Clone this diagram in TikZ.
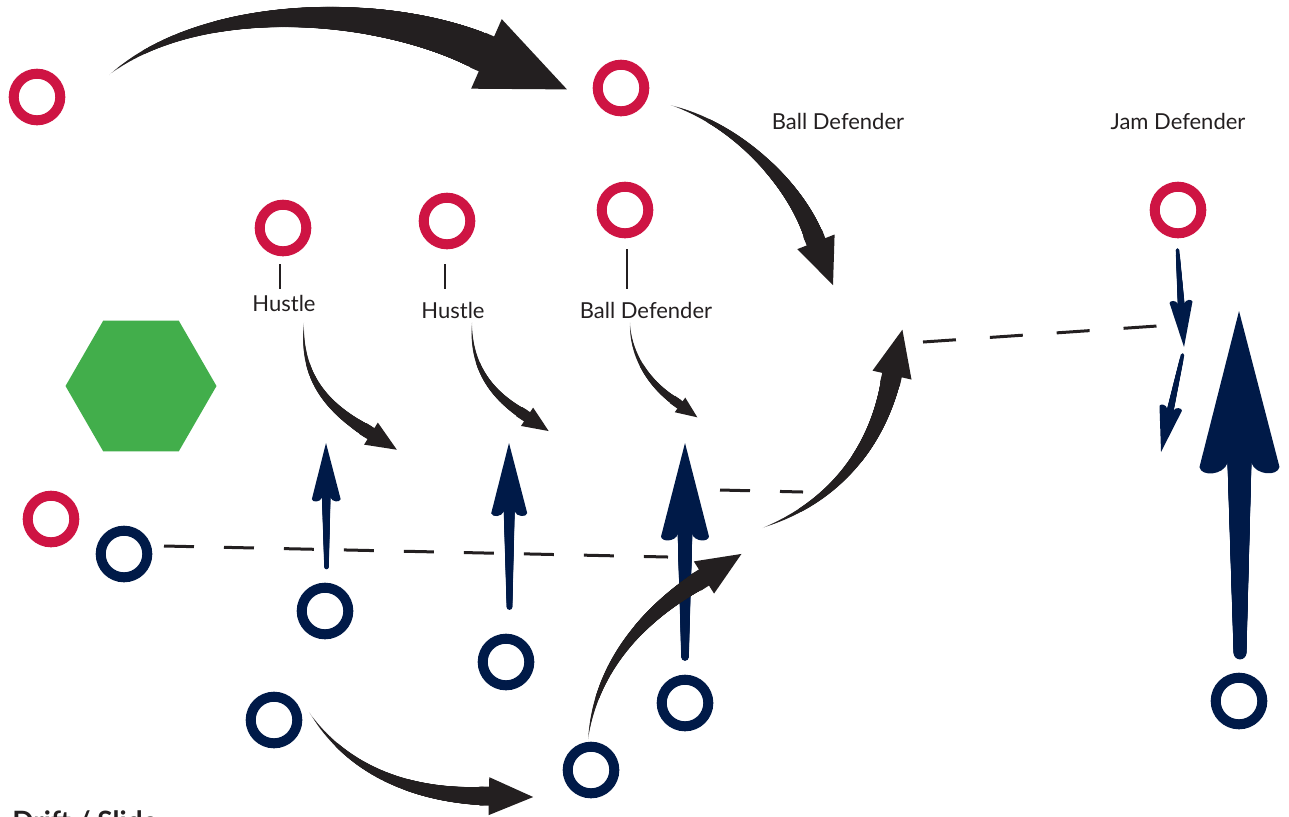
\documentclass[tikz,border=0pt]{standalone}
\usepackage{fontspec}
\setmainfont{Lato}
\usetikzlibrary{decorations.markings}

\definecolor{jamred}{RGB}{206,20,67}
\definecolor{navy}{RGB}{0,26,72}
\definecolor{ink}{RGB}{35,31,32}
\definecolor{turf}{RGB}{66,174,75}

\tikzset{
  redring/.style={circle, draw=jamred, line width=5pt, minimum size=23.3pt, inner sep=0pt},
  navyring/.style={circle, draw=navy, line width=5pt, minimum size=23.3pt, inner sep=0pt},
  tag/.style={text=ink, font=\fontsize{11}{13}\selectfont, inner sep=0pt, anchor=base},
  offside/.style={draw=ink, line width=1.5pt, dash pattern=on 15pt off 15pt},
  % black swing: body grows from a point to #1 pt, then a triangle head
  sweeparrow/.style={
    decoration={markings,
      mark=between positions 0 and 0.97 step 0.3pt with {
        \pgfmathsetmacro\sweepr{0.5*#1*\pgfkeysvalueof{/pgf/decoration/mark info/distance from start}/\pgfdecoratedpathlength}
        \fill[ink] (0pt,0pt) circle (\sweepr pt);},
      mark=at position -5pt with {
        \fill[ink] (4.7pt,{#1pt}) -- ({2.3*#1pt+5pt},0pt) -- (4.7pt,{-#1pt}) -- cycle;
        \fill[ink] (0pt,{-0.5*#1pt}) rectangle (5pt,{0.5*#1pt});}},
    postaction=decorate},
  % navy run: tapered stem, head half width #1 pt
  navyrun/.style={
    decoration={markings,
      mark=between positions 0 and 0.75 step 0.3pt with {
        \pgfmathsetmacro\stemr{#1*(0.16+0.25*\pgfkeysvalueof{/pgf/decoration/mark info/distance from start}/\pgfdecoratedpathlength)}
        \fill[navy] (0pt,0pt) circle (\stemr pt);},
      mark=at position -1pt with {
        \fill[navy] (1pt,0pt) -- ({-3.9*#1pt+1pt},{#1pt})
          .. controls ({-4.15*#1pt+1pt},{0.95*#1pt}) and ({-4.1*#1pt+1pt},{0.4*#1pt}) .. ({-3.8*#1pt+1pt},{0.3*#1pt})
          -- ({-3.8*#1pt+1pt},{-0.3*#1pt})
          .. controls ({-4.1*#1pt+1pt},{-0.4*#1pt}) and ({-4.15*#1pt+1pt},{-0.95*#1pt}) .. ({-3.9*#1pt+1pt},{-#1pt})
          -- cycle;}},
    postaction=decorate}
}

\begin{document}
\begin{tikzpicture}[x=0.5pt,y=-0.5pt]
\useasboundingbox (0,0) rectangle (1289,816);

% offside lines
\draw[offside] (164,546) -- (668,557);
\draw[offside] (720,490) -- (803,492);
\draw[offside, dash pattern=on 16.5pt off 17pt] (923,342) -- (1157,326);

% pack marker
\fill[turf] (141,386) +(0:75.5) \foreach \a in {60,120,...,300} {-- +(\a:75.5)} -- cycle;

% red players
\node[redring] (red1) at (37,97) {};
\node[redring] (red2) at (621,88) {};
\node[redring] (red3) at (283,228) {};
\node[redring] (red4) at (447,221) {};
\node[redring] (red5) at (625,210) {};
\node[redring] (red6) at (1178,210) {};
\node[redring] (red7) at (51,519) {};

% navy players
\node[navyring] (blue1) at (124,554) {};
\node[navyring] (blue2) at (325,611) {};
\node[navyring] (blue3) at (506,662) {};
\node[navyring] (blue4) at (685,703) {};
\node[navyring] (blue5) at (274,720) {};
\node[navyring] (blue6) at (591,770) {};
\node[navyring] (blue7) at (1239,701) {};

% labels
\node[tag] (ballTop) at (838,129) {Ball Defender};
\node[tag] (jamTop) at (1178,129) {Jam Defender};
\node[tag] (hustleA) at (284,311) {Hustle};
\node[tag] (hustleB) at (453,318) {Hustle};
\node[tag] (ballMid) at (646,318) {Ball Defender};
\draw[ink, line width=1.3pt] (280,264) -- (280,289);
\draw[ink, line width=1.3pt] (445,264) -- (445,289);
\draw[ink, line width=1.3pt] (627,249) -- (627,289);
\node[anchor=base west, text=ink, inner sep=0pt, font=\fontsize{14}{16}\selectfont\bfseries] (title) at (12,831) {Drift / Slide};

% navy runs
\coordinate (tI) at (326.5,567); \coordinate (hI) at (326,443);
\coordinate (tJ) at (509.5,607); \coordinate (hJ) at (509,443);
\coordinate (tK) at (685,657);   \coordinate (hK) at (685,443);
\coordinate (tN) at (1240,653);  \coordinate (hN) at (1239,311);
\coordinate (tF) at (1177.5,250); \coordinate (hF) at (1184,347);
\coordinate (tG) at (1182.5,355); \coordinate (hG) at (1161,452);
\path[navyrun=7.2] (tI) -- (hI);
\path[navyrun=9] (tJ) -- (hJ);
\path[navyrun=12] (tK) -- (hK);
\path[navyrun=20] (tN) -- (hN);
\path[navyrun=5.75] (tF) -- (hF);
\path[navyrun=5.75] (tG) -- (hG);

% black swings
\coordinate (s1) at (109,75);  \coordinate (e1) at (482,52);
\coordinate (s2) at (670,105); \coordinate (e2) at (816,243);
\coordinate (s3) at (304,322); \coordinate (e3) at (372,434);
\coordinate (s4) at (472,322); \coordinate (e4) at (528,417);
\coordinate (s5) at (630,322); \coordinate (e5) at (681,405);
\coordinate (s6) at (309,712); \coordinate (e6) at (490,796);
\coordinate (s7) at (588,740); \coordinate (e7) at (705,577);
\coordinate (s8) at (762,528); \coordinate (e8) at (892,374);
\path[sweeparrow=19] (s1) .. controls (200,0) and (380,5) .. (e1);
\path[sweeparrow=10] (s2) .. controls (740,125) and (800,190) .. (e2);
\path[sweeparrow=6.5] (s3) .. controls (300,380) and (330,410) .. (e3);
\path[sweeparrow=5.5] (s4) .. controls (470,370) and (495,398) .. (e4);
\path[sweeparrow=4.5] (s5) .. controls (630,360) and (655,390) .. (e5);
\path[sweeparrow=9.5] (s6) .. controls (350,775) and (420,797) .. (e6);
\path[sweeparrow=9.5] (s7) .. controls (595,670) and (640,615) .. (e7);
\path[sweeparrow=10] (s8) .. controls (840,500) and (880,440) .. (e8);
\end{tikzpicture}
\end{document}
